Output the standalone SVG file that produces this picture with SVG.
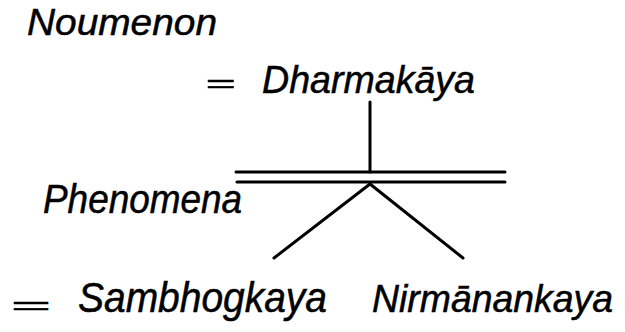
<svg xmlns="http://www.w3.org/2000/svg" width="625" height="332" viewBox="0 0 625 332">
<style>
  .t { font-family: "Liberation Sans", "DejaVu Sans", sans-serif; font-style: italic; fill: #000; stroke: #000; stroke-width: 0.5; }
  .ln { stroke: #000; stroke-width: 3; fill: none; stroke-linecap: round; }
</style>
<rect width="625" height="332" fill="#fff"/>
<g id="noumenon">
  <text class="t" x="27" y="35" font-size="37" textLength="190" lengthAdjust="spacingAndGlyphs">Noumenon</text>
</g>
<g id="dharmakaya">
  <text class="t" x="205" y="92" font-size="26" textLength="30" lengthAdjust="spacingAndGlyphs">=</text>
  <text class="t" x="262" y="93" font-size="39" textLength="213" lengthAdjust="spacingAndGlyphs">Dharmakāya</text>
</g>
<g id="phenomena">
  <text class="t" x="43" y="213" font-size="40" textLength="199" lengthAdjust="spacingAndGlyphs">Phenomena</text>
</g>
<g id="sambhogkaya">
  <text class="t" x="10" y="314" font-size="26" textLength="40" lengthAdjust="spacingAndGlyphs">=</text>
  <text class="t" x="78" y="312" font-size="42" textLength="249" lengthAdjust="spacingAndGlyphs">Sambhogkaya</text>
</g>
<g id="nirmanankaya">
  <text class="t" x="372" y="312" font-size="38" textLength="241" lengthAdjust="spacingAndGlyphs">Nirmānankaya</text>
</g>
<g id="connectors">
  <line class="ln" x1="370" y1="102" x2="370" y2="172"/>
  <line class="ln" x1="236" y1="172" x2="505" y2="172"/>
  <line class="ln" x1="237" y1="182" x2="505" y2="182"/>
  <line class="ln" x1="370" y1="184" x2="274" y2="258"/>
  <line class="ln" x1="370" y1="184" x2="463" y2="258"/>
</g>
</svg>
